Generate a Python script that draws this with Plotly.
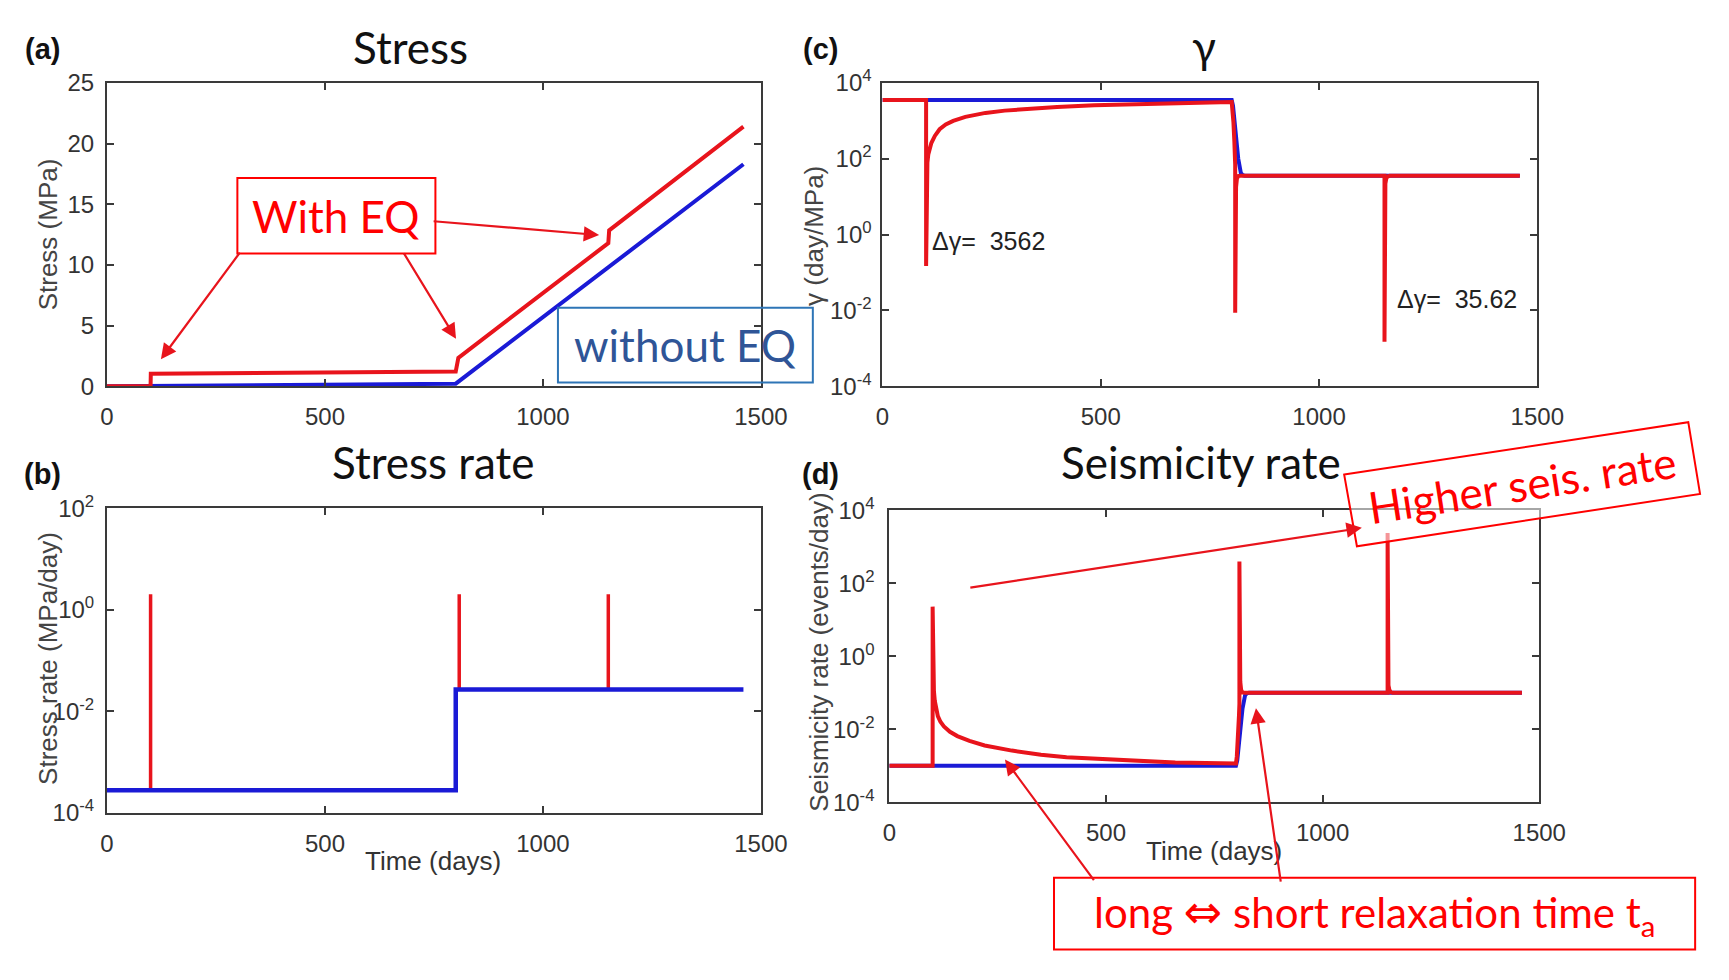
import plotly.graph_objects as go

# ---------------------------------------------------------------- data
# (a) cumulative stress (MPa) vs time (days)
stress_t_blue = [0, 800, 1460]
stress_blue = [0.0, 0.22, 18.3]
stress_t_red = [0, 100, 100.5, 800, 806, 1150, 1152, 1460]
stress_red = [0.0, 0.03, 1.03, 1.22, 2.35, 11.8, 12.85, 21.4]

# (b) stressing rate (MPa/day)
rate_t_blue = [0, 800, 800, 1460]
rate_blue = [2.8e-4, 2.8e-4, 0.027, 0.027]
eq_times = [100, 808, 1150]
eq_rate_base = [2.8e-4, 0.027, 0.027]
eq_rate_peak = [2.05, 2.05, 2.05]

# (c) gamma state variable (day/MPa)
gam_t_blue = [0, 800, 803, 806, 809, 812, 815, 818, 821, 825, 830, 1460]
gam_blue = [3562, 3562, 2500, 1300, 550, 220, 100, 60, 42, 37, 35.62, 35.62]
gam_t_red = [0, 100, 100, 100.5, 101, 102, 103, 105, 108, 112,
             120, 131, 145, 162, 190, 236, 280, 336, 400, 485,
             570, 672, 750, 800, 802, 804, 806, 807, 808, 808,
             808.5, 809, 810, 812, 815, 820, 1150, 1150, 1150.5, 1151,
             1152, 1154, 1157, 1162, 1460]
gam_red = [3562.15, 3562.15, 0.15, 10, 25, 55, 80, 130, 190, 260,
           400, 600, 800, 1000, 1270, 1620, 1860, 2100, 2330, 2570,
           2760, 2950, 3060, 3120, 2000, 900, 300, 150, 70, 0.0087,
           2, 8, 18, 30, 35, 35.62, 35.62, 0.0015, 5, 12,
           22, 30, 34, 35.5, 35.62]

# (d) seismicity rate (events/day)
seis_t_blue = [0, 800, 803, 806, 809, 812, 815, 818, 821, 825, 830, 1460]
seis_blue = [1e-3, 1e-3, 0.0014, 0.0027, 0.0065, 0.016, 0.036, 0.059, 0.085, 0.096, 0.1, 0.1]
seis_t_red = [0, 100, 100, 100.5, 101, 102, 103, 105, 108, 112,
              118, 126, 140, 157, 185, 220, 283, 350, 409, 470,
              535, 600, 660, 730, 800, 802, 804, 806, 807, 808,
              808, 808.5, 809, 810, 812, 815, 820, 1150, 1150, 1150.5,
              1151, 1152, 1154, 1157, 1162, 1460]
seis_red = [1e-3, 1e-3, 23, 2.5, 0.6, 0.2, 0.11, 0.06, 0.035, 0.023,
            0.016, 0.012, 0.0085, 0.0065, 0.0048, 0.0036, 0.0026, 0.002, 0.0017, 0.00155,
            0.0014, 0.0013, 0.00122, 0.00118, 0.00115, 0.0018, 0.004, 0.012, 0.024, 0.05,
            400, 1.8, 0.45, 0.2, 0.12, 0.102, 0.1, 0.1, 2400, 0.71,
            0.3, 0.16, 0.12, 0.105, 0.1, 0.1]

x_ticks = [0, 500, 1000, 1500]
stress_ticks = [0, 5, 10, 15, 20, 25]
log_ticks_b = [1e-4, 1e-2, 1, 1e2]
log_text_b = ["10<sup>-4</sup>", "10<sup>-2</sup>", "10<sup>0</sup>", "10<sup>2</sup>"]
log_ticks_cd = [1e-4, 1e-2, 1, 1e2, 1e4]
log_text_cd = ["10<sup>-4</sup>", "10<sup>-2</sup>", "10<sup>0</sup>", "10<sup>2</sup>", "10<sup>4</sup>"]

# ---------------------------------------------------------------- styling
W, H = 1729, 980
RED = "#e8141c"
BLUE = "#1a1ad6"
AXIS = "#3a3a3a"
TICK_FONT = dict(family="Liberation Sans, Arial, sans-serif", size=24, color="#333333")
CALLOUT = "Lato, Open Sans, sans-serif"
HELV = "Liberation Sans, Arial, sans-serif"


def px(x):
    return x / W


def py(y):
    return 1 - y / H


fig = go.Figure()

# (a)
fig.add_trace(go.Scatter(x=stress_t_blue, y=stress_blue, mode="lines",
                         line=dict(color=BLUE, width=4), xaxis="x", yaxis="y"))
fig.add_trace(go.Scatter(x=stress_t_red, y=stress_red, mode="lines",
                         line=dict(color=RED, width=4), xaxis="x", yaxis="y"))

# (b) red spikes first, blue baseline drawn over them
spike_x, spike_y = [], []
for t, lo, hi in zip(eq_times, eq_rate_base, eq_rate_peak):
    spike_x += [t, t, None]
    spike_y += [lo, hi, None]
fig.add_trace(go.Scatter(x=spike_x, y=spike_y, mode="lines",
                         line=dict(color=RED, width=3.5), xaxis="x2", yaxis="y2"))
fig.add_trace(go.Scatter(x=rate_t_blue, y=rate_blue, mode="lines",
                         line=dict(color=BLUE, width=4.5), xaxis="x2", yaxis="y2"))

# (c)
fig.add_trace(go.Scatter(x=gam_t_blue, y=gam_blue, mode="lines",
                         line=dict(color=BLUE, width=4), xaxis="x3", yaxis="y3"))
fig.add_trace(go.Scatter(x=gam_t_red, y=gam_red, mode="lines",
                         line=dict(color=RED, width=4), xaxis="x3", yaxis="y3"))

# (d)
fig.add_trace(go.Scatter(x=seis_t_blue, y=seis_blue, mode="lines",
                         line=dict(color=BLUE, width=4), xaxis="x4", yaxis="y4"))
fig.add_trace(go.Scatter(x=seis_t_red, y=seis_red, mode="lines",
                         line=dict(color=RED, width=4), xaxis="x4", yaxis="y4"))

common = dict(showline=True, linecolor=AXIS, linewidth=2, mirror="allticks",
              ticks="inside", ticklen=7, tickwidth=2, tickcolor=AXIS,
              showgrid=False, zeroline=False, tickfont=TICK_FONT)


def xax(x0, x1, anchor):
    return dict(common, domain=[px(x0), px(x1)], range=[0, 1500], tickvals=x_ticks,
                anchor=anchor, ticklabelstandoff=8)


dom_a = dict(x=(102, 769), y=(68, 381))
dom_b = dict(x=(102, 769), y=(507, 821))
dom_c = dict(x=(893, 1561), y=(68, 381))
dom_d = dict(x=(900, 1563), y=(509, 810))

fig.update_layout(
    xaxis=xax(*dom_a["x"], "y"),
    yaxis=dict(common, domain=[py(dom_a["y"][1]), py(dom_a["y"][0])], range=[0, 25],
               tickvals=stress_ticks, anchor="x", ticklabelstandoff=6),
    xaxis2=xax(*dom_b["x"], "y2"),
    yaxis2=dict(common, domain=[py(dom_b["y"][1]), py(dom_b["y"][0])], type="log",
                range=[-4, 2], tickvals=log_ticks_b, ticktext=log_text_b, anchor="x2",
                ticklabelstandoff=6),
    xaxis3=xax(*dom_c["x"], "y3"),
    yaxis3=dict(common, domain=[py(dom_c["y"][1]), py(dom_c["y"][0])], type="log",
                range=[-4, 4], tickvals=log_ticks_cd, ticktext=log_text_cd, anchor="x3",
                ticklabelstandoff=4),
    xaxis4=xax(*dom_d["x"], "y4"),
    yaxis4=dict(common, domain=[py(dom_d["y"][1]), py(dom_d["y"][0])], type="log",
                range=[-4, 4], tickvals=log_ticks_cd, ticktext=log_text_cd, anchor="x4",
                ticklabelstandoff=8),
)

ann = []


def text(x, y, s, size, color="#111111", family=CALLOUT, angle=0, **kw):
    ann.append(dict(x=px(x), y=py(y), xref="paper", yref="paper", text=s, showarrow=False,
                    xanchor=kw.pop("xanchor", "center"), yanchor=kw.pop("yanchor", "middle"),
                    textangle=angle, font=dict(family=family, size=size, color=color), **kw))


def arrow(hx, hy, tx, ty, color=RED):
    ann.append(dict(x=px(hx), y=py(hy), xref="paper", yref="paper", text="",
                    showarrow=True, ax=tx - hx, ay=ty - hy, arrowcolor=color,
                    arrowhead=2, arrowsize=1.4, arrowwidth=2.2, standoff=0, startstandoff=0))


# panel letters
for lbl, x, y in [("(a)", 36, 33), ("(b)", 36, 471), ("(c)", 830, 33), ("(d)", 830, 471)]:
    text(x, y, "<b>%s</b>" % lbl, 29, family=HELV)

# panel titles
text(412, 31, "Stress", 44)
text(1221, 30, "γ", 44)
text(435, 459, "Stress rate", 44)
text(1218, 459, "Seismicity rate", 44)

# axis titles
text(42, 224, "Stress (MPa)", 26, color="#444444", family=HELV, angle=-90)
text(42, 662, "Stress rate (MPa/day)", 26, color="#444444", family=HELV, angle=-90)
text(823, 226, "γ (day/MPa)", 26, color="#444444", family=HELV, angle=-90)
text(828, 655, "Seismicity rate (events/day)", 26, color="#444444", family=HELV, angle=-90)
text(435, 871, "Time (days)", 26, color="#333333", family=HELV)
text(1231, 860, "Time (days)", 26, color="#333333", family=HELV)

# gamma drop labels
text(942, 231, "Δγ=\u00a0\u00a03562", 25, color="#222222", family=HELV, xanchor="left")
text(1416, 291, "Δγ=\u00a0\u00a035.62", 25, color="#222222", family=HELV, xanchor="left")

# callouts
text(336, 205, "With EQ", 44, color="#ff0000")
text(692, 338, "without EQ", 44, color="#2f5597")
text(1546, 482, "Higher seis. rate", 44, color="#ff0000", angle=-8.7)
text(1395, 925,
     "long <span style=\"font-family:DejaVu Sans;font-size:46px\">⇔</span> "
     "short relaxation time t<sub>a</sub>", 42, color="#ff0000")

arrow(157, 353, 237, 245)
arrow(458, 332, 405, 245)
arrow(604, 225, 437, 211)
arrow(1382, 527, 989, 587)
arrow(1018, 766, 1108, 888)
arrow(1274, 713, 1299, 888)

shapes = [
    dict(type="rect", xref="paper", yref="paper", x0=px(235), x1=px(437), y0=py(244), y1=py(166),
         line=dict(color="#ff0000", width=2), fillcolor="white", layer="below"),
    dict(type="rect", xref="paper", yref="paper", x0=px(562), x1=px(822), y0=py(377), y1=py(300),
         line=dict(color="#2e75b6", width=2), fillcolor="rgba(0,0,0,0)", layer="above"),
    dict(type="path", xref="paper", yref="paper",
         path="M %f %f L %f %f L %f %f L %f %f Z" % (px(1364), py(472), px(1715), py(418),
                                                    px(1727), py(492), px(1377), py(546)),
         line=dict(color="#ff0000", width=2), fillcolor="rgba(255,255,255,0.55)", layer="above"),
    dict(type="rect", xref="paper", yref="paper", x0=px(1068), x1=px(1722), y0=py(962), y1=py(888),
         line=dict(color="#ff0000", width=2), fillcolor="white", layer="above"),
]

fig.update_layout(
    width=W, height=H, margin=dict(l=0, r=0, t=0, b=0, pad=0),
    paper_bgcolor="white", plot_bgcolor="white", showlegend=False,
    annotations=ann, shapes=shapes,
)

fig.write_html("out.html")
